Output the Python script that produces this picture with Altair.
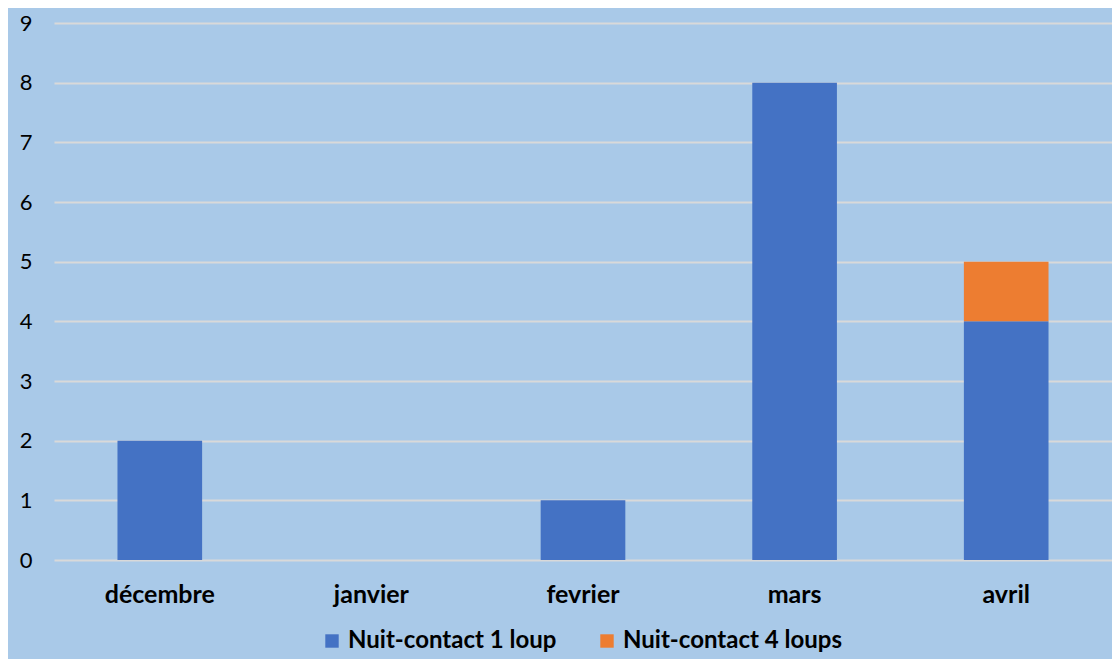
import altair as alt
import pandas as pd

months = ["décembre", "janvier", "fevrier", "mars", "avril"]
series = ["Nuit-contact 1 loup", "Nuit-contact 4 loups"]
one_wolf = [2, 0, 1, 8, 4]
four_wolves = [0, 0, 0, 0, 1]
colors = ["#4472C4", "#ED7D31"]

rows = []
for m, a, b in zip(months, one_wolf, four_wolves):
    rows.append({"mois": m, "serie": series[0], "valeur": a, "ordre": 0})
    rows.append({"mois": m, "serie": series[1], "valeur": b, "ordre": 1})
df = pd.DataFrame(rows)

FONT = "Lato"

chart = alt.Chart(df).mark_bar().encode(
    x=alt.X("mois:N", sort=months,
            scale=alt.Scale(paddingInner=0.6, paddingOuter=0.3),
            axis=alt.Axis(title=None, labelAngle=0, labelFont=FONT, labelFontSize=25,
                          labelFontWeight="bold", labelColor="#000000", labelPadding=22,
                          ticks=False, domain=False, grid=False)),
    y=alt.Y("valeur:Q", stack="zero",
            scale=alt.Scale(domain=[0, 9], nice=False),
            axis=alt.Axis(title=None, values=list(range(10)), labelFont=FONT, labelFontSize=22,
                          labelColor="#000000", labelPadding=22, ticks=False, domain=False,
                          grid=True, gridColor="#D9D9D9", gridWidth=2)),
    color=alt.Color("serie:N", sort=series,
                    scale=alt.Scale(domain=series, range=colors),
                    legend=alt.Legend(title=None, orient="none", direction="horizontal",
                                      legendX=266, legendY=606,
                                      symbolType="square", symbolSize=180, symbolStrokeWidth=0,
                                      labelFont=FONT, labelFontSize=24, labelFontWeight="bold",
                                      labelColor="#000000", columnPadding=38,
                                      labelLimit=400)),
    order=alt.Order("ordre:Q", sort="ascending"),
).properties(
    width=1058, height=537,
    background="#A9C9E8",
    padding={"left": 46, "top": 15, "right": 0, "bottom": 99},
    autosize=alt.AutoSizeParams(type="none"),
).configure_view(stroke=None)

chart.save("out.html", embed_options={"renderer": "svg", "actions": False})
